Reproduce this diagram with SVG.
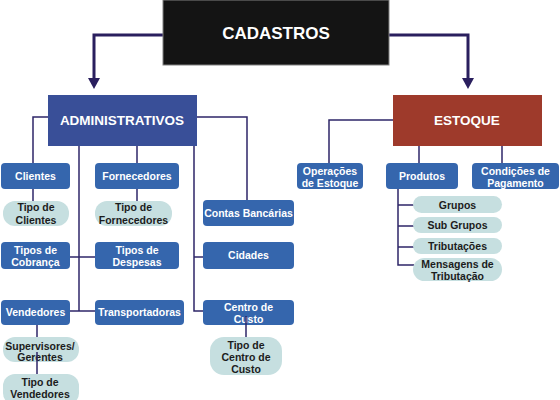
<svg xmlns="http://www.w3.org/2000/svg" width="560" height="400" viewBox="0 0 560 400">
<defs>
<style>
.t{font-family:"Liberation Sans",Arial,sans-serif;font-weight:bold;text-anchor:middle}
.w{fill:#fff;font-size:10.5px}
.d{fill:#1c1c1c;font-size:10.5px}
.box{fill:#3566ad}
.pill{fill:#c6dfe0}
.ln{stroke:#2e2668;stroke-width:1.5;fill:none}
.main{stroke:#2a1f5e;stroke-width:3;fill:none}
</style>
<marker id="ah" viewBox="0 0 12 10" refX="6" refY="10" markerWidth="12" markerHeight="10" markerUnits="userSpaceOnUse" orient="auto-start-reverse">
<path d="M0,0 L12,0 L6,10 Z" fill="#2a1f5e"/>
</marker>
</defs>
<rect width="560" height="400" fill="#fff"/>

<g id="connectors">
<path class="main" d="M163,35 H94 V78"/>
<path d="M88,78 H100 L94,89 Z" fill="#2a1f5e"/>
<path class="main" d="M389,35 H468 V78"/>
<path d="M462,78 H474 L468,89 Z" fill="#2a1f5e"/>
<path class="ln" d="M48,117 H33 V163"/>
<path class="ln" d="M33,189 V201"/>
<path class="ln" d="M79,146 V311"/>
<path class="ln" d="M137,146 V163"/>
<path class="ln" d="M137,189 V201"/>
<path class="ln" d="M194,146 V311 H203"/>
<path class="ln" d="M194,257 H203"/>
<path class="ln" d="M197,117 H247 V200"/>
<path class="ln" d="M70,257 H95"/>
<path class="ln" d="M70,311 H95"/>
<path class="ln" d="M393,120 H329 V163"/>
<path class="ln" d="M419,146 V163"/>
<path class="ln" d="M502,146 V163"/>
<path class="ln" d="M398,189 V265 H414"/>
<path class="ln" d="M398,205 H414 M398,226 H414 M398,247 H414"/>
<path class="ln" d="M37,325 V337"/>
</g>

<g id="cadastros"><rect x="163" y="0" width="226" height="65" fill="#141414" stroke="#808080" stroke-width="1"/><text class="t" x="276" y="39" fill="#fff" font-size="17">CADASTROS</text></g>
<g id="administrativos"><rect x="48" y="95" width="149" height="51" fill="#394f98"/><text class="t" x="122" y="125" fill="#fff" font-size="13.5">ADMINISTRATIVOS</text></g>
<g id="estoque"><rect x="393" y="95" width="149" height="51" fill="#9e3a2b"/><text class="t" x="467" y="125" fill="#fff" font-size="13.5">ESTOQUE</text></g>

<g id="clientes"><rect class="box" x="1" y="163" width="69" height="26" rx="4"/><text class="t w" x="35.5" y="180">Clientes</text></g>
<g id="tipo-clientes"><rect class="pill" x="3" y="201" width="66" height="25" rx="12"/><text class="t d" x="36" y="211">Tipo de</text><text class="t d" x="36" y="224">Clientes</text></g>
<g id="fornecedores"><rect class="box" x="95" y="163" width="84" height="26" rx="4"/><text class="t w" x="137" y="180">Fornecedores</text></g>
<g id="tipo-fornecedores"><rect class="pill" x="95" y="201" width="77" height="25" rx="12"/><text class="t d" x="133.5" y="211">Tipo de</text><text class="t d" x="133.5" y="224">Fornecedores</text></g>
<g id="contas"><rect class="box" x="203" y="200" width="91" height="26" rx="4"/><text class="t w" x="248.5" y="217">Contas Bancárias</text></g>
<g id="cidades"><rect class="box" x="203" y="242" width="91" height="27" rx="4"/><text class="t w" x="248.5" y="259">Cidades</text></g>
<g id="cobranca"><rect class="box" x="1" y="242" width="69" height="27" rx="4"/><text class="t w" x="35.5" y="254">Tipos de</text><text class="t w" x="35.5" y="266">Cobrança</text></g>
<g id="despesas"><rect class="box" x="95" y="242" width="84" height="27" rx="4"/><text class="t w" x="137" y="254">Tipos de</text><text class="t w" x="137" y="266">Despesas</text></g>
<g id="vendedores"><rect class="box" x="1" y="300" width="69" height="25" rx="4"/><text class="t w" x="35.5" y="316">Vendedores</text></g>
<g id="transportadoras"><rect class="box" x="95" y="300" width="89" height="25" rx="4"/><text class="t w" x="139.5" y="316">Transportadoras</text></g>
<g id="centro-custo"><rect class="box" x="203" y="300" width="91" height="25" rx="4"/><text class="t w" x="248.5" y="311">Centro de</text><text class="t w" x="248.5" y="323">Custo</text></g>
<g id="supervisores"><rect class="pill" x="3" y="337" width="76" height="25" rx="12"/><text class="t d" x="40" y="350">Supervisores/</text><text class="t d" x="40" y="361">Gerentes</text></g>
<g id="tipo-vendedores"><rect class="pill" x="3" y="374" width="76" height="31" rx="12"/><text class="t d" x="40" y="386">Tipo de</text><text class="t d" x="40" y="398">Vendedores</text></g>
<g id="tipo-centro"><rect class="pill" x="210" y="337" width="72" height="38" rx="14"/><text class="t d" x="246" y="349">Tipo de</text><text class="t d" x="246" y="361">Centro de</text><text class="t d" x="246" y="373">Custo</text></g>

<g id="operacoes"><rect class="box" x="297" y="163" width="66" height="26" rx="4"/><text class="t w" x="330" y="175">Operações</text><text class="t w" x="330" y="187">de Estoque</text></g>
<g id="produtos"><rect class="box" x="386" y="163" width="72" height="26" rx="4"/><text class="t w" x="422" y="180">Produtos</text></g>
<g id="condicoes"><rect class="box" x="472" y="163" width="87" height="26" rx="4"/><text class="t w" x="515.5" y="175">Condições de</text><text class="t w" x="515.5" y="187">Pagamento</text></g>
<g id="grupos"><rect class="pill" x="413" y="196" width="89" height="17" rx="8.5"/><text class="t d" x="457.5" y="208.5">Grupos</text></g>
<g id="subgrupos"><rect class="pill" x="413" y="217" width="89" height="16" rx="8"/><text class="t d" x="457.5" y="229">Sub Grupos</text></g>
<g id="tributacoes"><rect class="pill" x="413" y="238" width="89" height="16" rx="8"/><text class="t d" x="457.5" y="250">Tributações</text></g>
<g id="mensagens"><rect class="pill" x="413" y="258" width="89" height="23" rx="11.5"/><text class="t d" x="457.5" y="268">Mensagens de</text><text class="t d" x="457.5" y="280">Tributação</text></g>

<g id="overlay-connectors">
<path class="ln" d="M37,352 V374"/>
<path class="ln" d="M246,316 V337"/>
</g>
</svg>
